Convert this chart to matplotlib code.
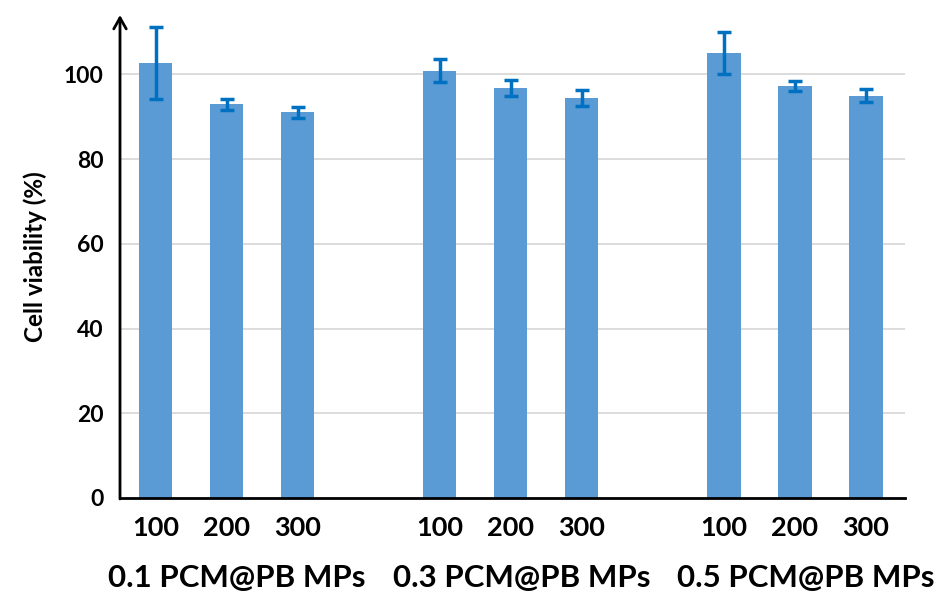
import matplotlib.pyplot as plt

groups = ['0.1 PCM@PB MPs', '0.3 PCM@PB MPs', '0.5 PCM@PB MPs']
doses = ['100', '200', '300']
viability = [
    [102.6, 92.9, 91.0],
    [100.8, 96.8, 94.4],
    [105.0, 97.3, 95.0],
]
errors = [
    [8.5, 1.3, 1.2],
    [2.7, 1.8, 1.8],
    [4.9, 1.2, 1.5],
]
yticks = [0, 20, 40, 60, 80, 100]

plt.rcParams['font.family'] = ['Lato', 'DejaVu Sans']
plt.rcParams['font.weight'] = 'bold'

dpi = 100
fig = plt.figure(figsize=(939/dpi, 597/dpi), dpi=dpi)
ax = fig.add_axes([120/939, 99/597, 785/939, 483/597])

pos = []
vals = []
errs = []
labels = []
for g in range(len(groups)):
    for d in range(len(doses)):
        pos.append(g * 4 + d)
        vals.append(viability[g][d])
        errs.append(errors[g][d])
        labels.append(doses[d])

ax.bar(pos, vals, width=0.47, color='#5B9BD5', zorder=2)
ax.errorbar(pos, vals, yerr=errs, fmt='none', ecolor='#0070C0',
            elinewidth=2.5, capsize=5, capthick=2.5, zorder=3)

ax.set_xlim(-0.5, 10.55)
ax.set_ylim(0, 114)
ax.set_yticks(yticks)
ax.set_yticklabels([str(v) for v in yticks], fontsize=16.5, fontweight='bold')
ax.set_xticks(pos)
ax.set_xticklabels(labels, fontsize=19.5, fontweight='bold')
ax.tick_params(axis='both', length=0)
ax.tick_params(axis='x', pad=13)
ax.tick_params(axis='y', pad=12)

for y in yticks[1:]:
    ax.axhline(y, color='#d9d9d9', lw=1.3, zorder=1)

for s in ['top', 'right', 'left']:
    ax.spines[s].set_visible(False)
ax.spines['bottom'].set_linewidth(2)
ax.spines['bottom'].set_color('black')

# y axis with arrow head
ax.annotate('', xy=(0, 1.0), xycoords='axes fraction', xytext=(0, -0.002),
            textcoords='axes fraction',
            arrowprops=dict(arrowstyle='->,head_length=0.8,head_width=0.45',
                            lw=2, color='black', shrinkA=0, shrinkB=0))

ax.set_ylabel('Cell viability (%)', fontsize=17.5, fontweight='bold', labelpad=12)

for g, name in enumerate(groups):
    ax.text(g * 4 + 1.15, -0.165, name, transform=ax.get_xaxis_transform(),
            ha='center', va='center', fontsize=22.5, fontweight='bold')

plt.savefig('out.png', dpi=dpi)
